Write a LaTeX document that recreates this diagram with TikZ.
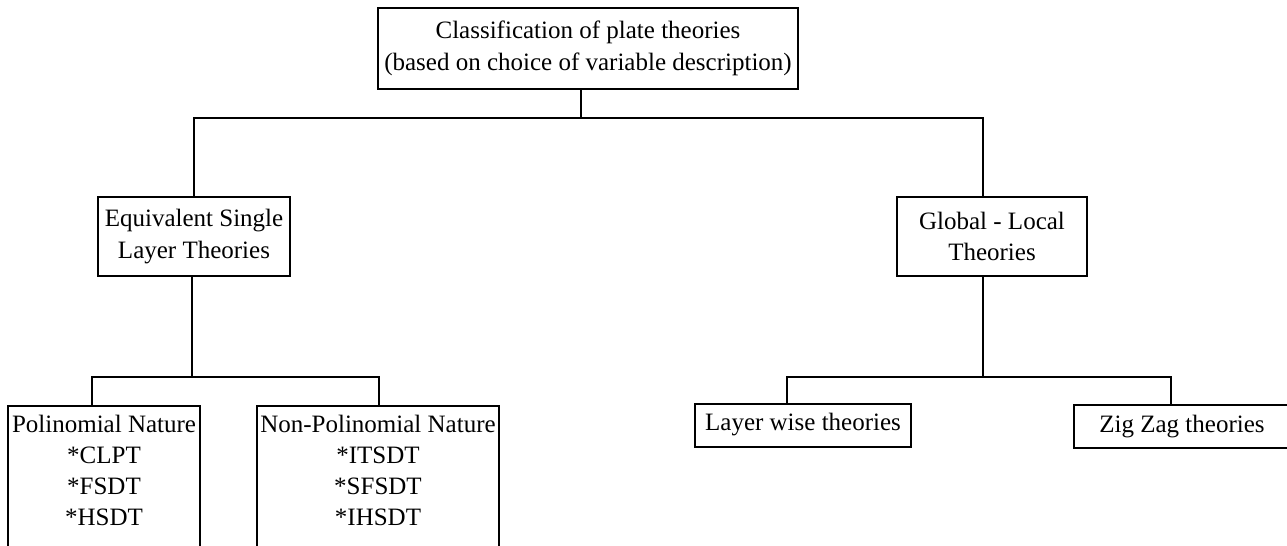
\documentclass[tikz,border=0pt]{standalone}
\usepackage{fontspec}
\setmainfont{Liberation Serif}
\begin{document}
\begin{tikzpicture}[x=0.5pt,y=-0.5pt,
  box/.style={draw, line width=1pt, inner sep=0pt, align=center,
    font=\fontsize{12.5}{15.75}\selectfont},
  wire/.style={line width=1pt}]
\useasboundingbox (0,0) rectangle (1287,546);
\clip (0,0) rectangle (1287,546);
\fill[white] (0,0) rectangle (1287,546);
% nodes
\node[box, minimum width=210pt, minimum height=40.5pt] (top) at (588,48.5)
  {Classification of plate theories\\(based on choice of variable description)};
\node[box, minimum width=96pt, minimum height=39.5pt] (esl) at (194,236.5)
  {Equivalent Single\\Layer Theories};
\node[box, minimum width=95pt, minimum height=39.5pt] (gl) at (992,236.5)
  {Global - Local\\Theories};
\node[box, minimum width=96pt, anchor=north, inner ysep=4.5pt, text depth=60pt,
  font=\fontsize{12.5}{15.5}\selectfont] (poly) at (104,405)
  {Polinomial Nature\\*CLPT\\*FSDT\\*HSDT};
\node[box, minimum width=121pt, anchor=north, inner ysep=4.5pt, text depth=60pt,
  font=\fontsize{12.5}{15.5}\selectfont] (npoly) at (378,405)
  {Non-Polinomial Nature\\*ITSDT\\*SFSDT\\*IHSDT};
\node[box, minimum width=108pt, minimum height=21.5pt] (lw) at (803,425)
  {Layer wise theories};
\node[box, minimum width=108pt, minimum height=21.5pt] (zz) at (1182,426.5)
  {Zig Zag theories};
% junctions
\coordinate (j0) at (581,118);
\coordinate (jL) at (194,118);
\coordinate (jR) at (983,118);
\coordinate (k) at (192,377);
\coordinate (kL) at (92,377);
\coordinate (kR) at (379,377);
\coordinate (m) at (983,377);
\coordinate (mL) at (787,377);
\coordinate (mR) at (1171,377);
% connectors
\draw[wire] (top.south -| j0) -- (j0);
\draw[wire] (esl.north -| jL) -- (jL) -- (jR) -- (gl.north -| jR);
\draw[wire] (esl.south -| k) -- (k);
\draw[wire] (poly.north -| kL) -- (kL) -- (kR) -- (npoly.north -| kR);
\draw[wire] (gl.south -| m) -- (m);
\draw[wire] (lw.north -| mL) -- (mL) -- (mR) -- (zz.north -| mR);
\end{tikzpicture}
\end{document}
